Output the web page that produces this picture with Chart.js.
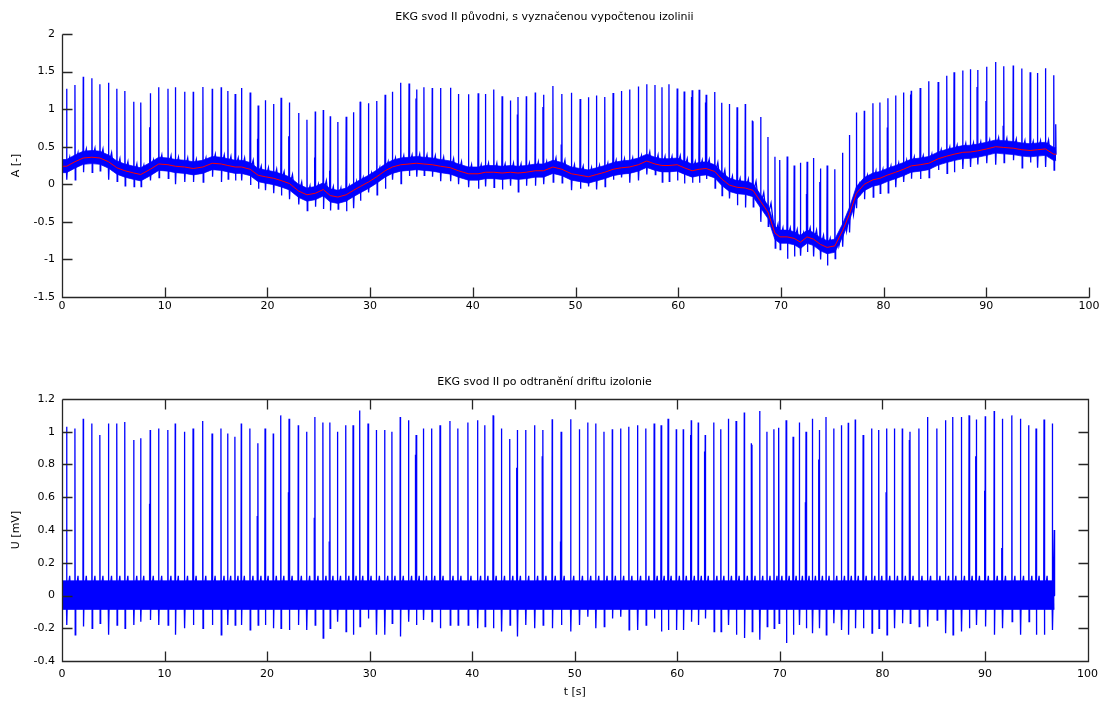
<!DOCTYPE html>
<html>
<head>
<meta charset="utf-8">
<script src="https://cdn.jsdelivr.net/npm/chart.js@4.4.1/dist/chart.umd.min.js"></script>
<style>
  html, body { margin: 0; padding: 0; background: #fff; }
  #wrap { position: relative; width: 1105px; height: 704px; }
  #ekgTop { position: absolute; left: 0; top: 0; }
  #ekgBot { position: absolute; left: 0; top: 350px; }
</style>
</head>
<body>
<div id="wrap">
  <canvas id="ekgTop" width="1105" height="350"></canvas>
  <canvas id="ekgBot" width="1105" height="354"></canvas>
</div>
<script>
// casy QRS komplexu [s]
const beatTimes = [
  0.45, 1.26, 2.07, 2.91, 3.69, 4.53, 5.34, 6.12, 6.99, 7.67,
  8.6, 9.42, 10.32, 11.04, 11.94, 12.78, 13.72, 14.63, 15.5, 16.15,
  16.86, 17.48, 18.32, 19.1, 19.8, 20.6, 21.33, 22.14, 23.04, 23.85,
  24.66, 25.44, 26.12, 26.86, 27.67, 28.38, 29.03, 29.84, 30.65, 31.46,
  32.17, 32.98, 33.79, 34.53, 35.24, 36.05, 36.86, 37.83, 38.6, 39.58,
  40.52, 41.23, 42.04, 42.85, 43.66, 44.4, 45.21, 46.08, 46.89, 47.8,
  48.67, 49.6, 50.45, 51.26, 52.04, 52.85, 53.66, 54.47, 55.27, 56.12,
  56.93, 57.74, 58.42, 59.1, 59.9, 60.58, 61.36, 62.04, 62.72, 63.56,
  64.24, 64.98, 65.73, 66.53, 67.28, 68.03, 68.74, 69.42, 69.9, 70.61,
  71.29, 71.9, 72.55, 73.17, 73.85, 74.5, 75.25, 76.0, 76.67, 77.35,
  78.12, 78.96, 79.64, 80.42, 81.17, 81.94, 82.69, 83.56, 84.4, 85.31,
  86.15, 86.86, 87.7, 88.45, 89.16, 90.03, 90.9, 91.7, 92.62, 93.46,
  94.27, 94.98, 95.76, 96.57, 96.76
];
// vrchol R po odstraneni driftu [mV]
const rPeaks = [
  1.03, 1.02, 1.08, 1.05, 0.98, 1.05, 1.05, 1.06, 0.95, 0.96,
  1.01, 1.02, 1.01, 1.05, 1.0, 1.02, 1.065, 0.99, 1.02, 0.99,
  0.97, 1.05, 1.02, 0.93, 1.02, 0.99, 1.1, 1.08, 1.04, 1.0,
  1.09, 1.057, 1.057, 1.0, 1.04, 1.04, 1.13, 1.05, 1.01, 1.01,
  1.0, 1.09, 1.07, 0.98, 1.02, 1.02, 1.04, 1.065, 1.02, 1.057,
  1.07, 1.04, 1.1, 1.02, 0.955, 1.01, 1.01, 1.04, 1.01, 1.077,
  1.0, 1.077, 1.016, 1.057, 1.05, 1.0, 1.016, 1.02, 1.03, 1.04,
  1.02, 1.05, 1.04, 1.08, 1.016, 1.016, 1.07, 1.057, 0.98, 1.057,
  1.016, 1.08, 1.065, 1.118, 0.92, 1.126, 1.0, 1.016, 1.024, 1.07,
  0.97, 1.057, 1.0, 1.08, 1.01, 1.09, 1.02, 1.04, 1.055, 1.075,
  0.98, 1.02, 1.01, 1.02, 1.02, 1.02, 1.0, 1.02, 1.09, 1.02,
  1.07, 1.09, 1.09, 1.1, 1.075, 1.095, 1.127, 1.08, 1.1, 1.08,
  1.04, 1.02, 1.075, 1.05, 0.40
];
// kmit S po odstraneni driftu [mV]
const sTroughs = [
  -0.18, -0.24, -0.19, -0.2, -0.17, -0.24, -0.18, -0.2, -0.18, -0.16,
  -0.15, -0.18, -0.18, -0.24, -0.2, -0.18, -0.2, -0.18, -0.24, -0.18,
  -0.18, -0.18, -0.21, -0.18, -0.18, -0.2, -0.2, -0.21, -0.18, -0.21,
  -0.18, -0.26, -0.2, -0.16, -0.22, -0.24, -0.19, -0.14, -0.24, -0.24,
  -0.17, -0.25, -0.16, -0.18, -0.15, -0.16, -0.2, -0.18, -0.18, -0.18,
  -0.2, -0.19, -0.2, -0.22, -0.18, -0.25, -0.18, -0.2, -0.18, -0.2,
  -0.18, -0.22, -0.18, -0.13, -0.2, -0.19, -0.14, -0.13, -0.21, -0.21,
  -0.18, -0.14, -0.22, -0.21, -0.21, -0.21, -0.16, -0.18, -0.14, -0.22,
  -0.22, -0.18, -0.24, -0.26, -0.22, -0.27, -0.19, -0.2, -0.17, -0.29,
  -0.24, -0.18, -0.2, -0.23, -0.2, -0.24, -0.17, -0.21, -0.24, -0.2,
  -0.2, -0.23, -0.2, -0.24, -0.2, -0.17, -0.17, -0.19, -0.19, -0.15,
  -0.23, -0.24, -0.22, -0.2, -0.18, -0.19, -0.24, -0.2, -0.16, -0.24,
  -0.16, -0.24, -0.24, -0.21, 0
];
// vypoctena izolinie v miste kazdeho QRS [-]
const isoline = [
  0.24, 0.30, 0.35, 0.36, 0.35, 0.30, 0.22, 0.18, 0.15, 0.13,
  0.20, 0.27, 0.26, 0.24, 0.23, 0.21, 0.23, 0.28, 0.27, 0.25,
  0.23, 0.23, 0.20, 0.12, 0.10, 0.08, 0.05, 0.01, -0.09, -0.14,
  -0.12, -0.07, -0.15, -0.17, -0.14, -0.08, -0.03, 0.03, 0.10, 0.18,
  0.23, 0.26, 0.27, 0.28, 0.27, 0.26, 0.24, 0.22, 0.18, 0.14,
  0.14, 0.16, 0.16, 0.15, 0.16, 0.15, 0.16, 0.18, 0.18, 0.23,
  0.20, 0.14, 0.12, 0.10, 0.13, 0.16, 0.20, 0.22, 0.23, 0.26,
  0.31, 0.27, 0.25, 0.25, 0.26, 0.22, 0.18, 0.20, 0.21, 0.17,
  0.07, -0.01, -0.04, -0.05, -0.08, -0.23, -0.37, -0.65, -0.70, -0.70,
  -0.72, -0.77, -0.70, -0.73, -0.80, -0.84, -0.82, -0.62, -0.40, -0.12,
  0.00, 0.06, 0.08, 0.125, 0.16, 0.20, 0.245, 0.26, 0.28, 0.34,
  0.375, 0.40, 0.425, 0.43, 0.445, 0.47, 0.50, 0.49, 0.48, 0.46,
  0.45, 0.46, 0.47, 0.40, 0.40
];
// nizsi druhe kmity u nekterych QRS (index QRS, vyska)
const extraBeat = [10, 23, 27, 30, 32, 43, 55, 58, 60, 76, 78, 84, 92, 94, 103, 106, 114, 115, 117];
const extraPeaks = [0.56, 0.485, 0.63, 0.475, 0.33, 0.86, 0.78, 0.85, 0.33, 0.98, 0.88, 0.93, 0.57, 0.83, 0.63, 0.95, 0.85, 0.64, 0.29];

const noiseBand = [-0.085, 0.09];   // pas sumu kolem izolinie
const tWave = 0.12;
const recordEnd = 96.8;

const xTicks = [0, 10, 20, 30, 40, 50, 60, 70, 80, 90, 100];
const topYTicks = [-1.5, -1, -0.5, 0, 0.5, 1, 1.5, 2];
const topYLabels = ['-1.5', '-1', '-0.5', '0', '0.5', '1', '1.5', '2'];
const botYTicks = [-0.4, -0.2, 0, 0.2, 0.4, 0.6, 0.8, 1, 1.2];
const botYLabels = ['-0.4', '-0.2', '0', '0.2', '0.4', '0.6', '0.8', '1', '1.2'];

Chart.defaults.font.family = 'DejaVu Sans';
Chart.defaults.font.size = 11;
Chart.defaults.color = '#000';

const BLUE = '#0000ff';

function baseAt(base, i) { return base ? base[i] : 0; }

function bandEdge(base, level) {
  const pts = [{ x: 0, y: baseAt(base, 0) + level }];
  beatTimes.forEach((t, i) => pts.push({ x: t, y: baseAt(base, i) + level }));
  pts.push({ x: recordEnd, y: baseAt(base, beatTimes.length - 1) + level });
  return pts;
}

function spikePath(base) {
  const pts = [];
  beatTimes.forEach((t, i) => {
    const b = baseAt(base, i);
    pts.push({ x: t - 0.03, y: b });
    pts.push({ x: t, y: b + rPeaks[i] });
    pts.push({ x: t + 0.03, y: b + sTroughs[i] });
    pts.push({ x: t + 0.08, y: b });
    if (t + 0.4 < recordEnd) {
      pts.push({ x: t + 0.3, y: b + tWave });
      pts.push({ x: t + 0.4, y: b });
    }
  });
  return pts;
}

function extraPath(base) {
  const pts = [];
  extraBeat.forEach((i, k) => {
    const t = beatTimes[i] - 0.06, b = baseAt(base, i);
    pts.push({ x: t, y: b }, { x: t, y: b + extraPeaks[k] }, { x: t, y: null });
  });
  return pts;
}

// osy ve stylu matlabu: tick carky dovnitr
const matlabAxes = {
  id: 'matlabAxes',
  afterDraw(chart, args, opts) {
    const { ctx, chartArea: a, scales: { x, y } } = chart;
    const L = Math.round(a.left) + 0.5, R = Math.round(a.right) + 0.5;
    const T = Math.round(a.top) + 0.5, B = Math.round(a.bottom) + 0.5;
    const len = 10;
    ctx.save();
    ctx.strokeStyle = '#262626';
    ctx.lineWidth = 1.3;
    ctx.beginPath();
    ctx.moveTo(L, T); ctx.lineTo(L, B); ctx.lineTo(R, B);
    if (opts.box) { ctx.lineTo(R, T); ctx.lineTo(L, T); }
    x.ticks.forEach(tk => {
      const px = Math.round(x.getPixelForValue(tk.value)) + 0.5;
      ctx.moveTo(px, B); ctx.lineTo(px, B - len);
      if (opts.box) { ctx.moveTo(px, T); ctx.lineTo(px, T + len); }
    });
    y.ticks.forEach(tk => {
      const py = Math.round(y.getPixelForValue(tk.value)) + 0.5;
      ctx.moveTo(L, py); ctx.lineTo(L + len, py);
      if (opts.box) { ctx.moveTo(R, py); ctx.lineTo(R - len, py); }
    });
    ctx.stroke();
    ctx.restore();
  }
};

function makeChart(el, cfg) {
  const datasets = [
    { data: bandEdge(cfg.base, noiseBand[1]), borderColor: 'rgba(0,0,255,0.7)', borderWidth: 1,
      backgroundColor: BLUE, fill: '+1', pointRadius: 0, order: 3 },
    { data: bandEdge(cfg.base, noiseBand[0]), borderColor: 'rgba(0,0,255,0.7)', borderWidth: 1,
      fill: false, pointRadius: 0, order: 3 },
    { data: spikePath(cfg.base), borderColor: BLUE, borderWidth: 1.3, pointRadius: 0, fill: false, order: 2 },
    { data: extraPath(cfg.base), borderColor: BLUE, borderWidth: 1.3, pointRadius: 0, fill: false,
      spanGaps: false, order: 2 }
  ];
  if (cfg.base) {
    const iso = [{ x: 0, y: cfg.base[0] }];
    beatTimes.forEach((t, i) => iso.push({ x: t, y: cfg.base[i] }));
    iso.push({ x: recordEnd, y: cfg.base[cfg.base.length - 1] });
    datasets.push({ data: iso, borderColor: '#ff0000', borderWidth: 1, pointRadius: 0,
      fill: false, order: 0 });
  }
  return new Chart(el, {
    type: 'line',
    data: { datasets },
    options: {
      responsive: false,
      animation: false,
      events: [],
      layout: { padding: { left: 0, right: 16, top: 0, bottom: 0 } },
      plugins: {
        legend: { display: false },
        tooltip: { enabled: false },
        title: { display: true, text: cfg.title, font: { size: 11, weight: 'normal' },
                 padding: cfg.titlePad },
        matlabAxes: { box: cfg.box }
      },
      scales: {
        x: {
          type: 'linear', min: 0, max: 100,
          afterBuildTicks: s => { s.ticks = xTicks.map(v => ({ value: v })); },
          afterFit: s => { s.height = cfg.xHeight; },
          ticks: { padding: cfg.xPad, maxRotation: 0, callback: v => String(v) },
          grid: { display: false, drawTicks: false },
          border: { display: false },
          title: { display: !!cfg.xTitle, text: cfg.xTitle || '', font: { size: 11 },
                   padding: { top: 0, bottom: 5 } }
        },
        y: {
          min: cfg.yTicks[0], max: cfg.yTicks[cfg.yTicks.length - 1],
          afterBuildTicks: s => { s.ticks = cfg.yTicks.map(v => ({ value: v })); },
          afterFit: s => { s.width = 62; },
          ticks: { padding: 7, callback: (v, i) => cfg.yLabels[i] },
          grid: { display: false, drawTicks: false },
          border: { display: false },
          title: { display: true, text: cfg.yTitle, font: { size: 11 },
                   padding: { top: 10, bottom: 0 } }
        }
      }
    },
    plugins: [matlabAxes]
  });
}

makeChart(document.getElementById('ekgTop'), {
  base: isoline,
  title: 'EKG svod II původni, s vyznačenou vypočtenou izolinii',
  titlePad: { top: 10.5, bottom: 10.3 },
  yTicks: topYTicks, yLabels: topYLabels, yTitle: 'A [-]',
  xHeight: 53, xPad: 3, box: false
});

makeChart(document.getElementById('ekgBot'), {
  base: null,
  title: 'EKG svod II po odtranění driftu izolonie',
  titlePad: { top: 26, bottom: 9.8 },
  yTicks: botYTicks, yLabels: botYLabels, yTitle: 'U [mV]',
  xTitle: 't [s]',
  xHeight: 43, xPad: 7, box: true
});
</script>
</body>
</html>
